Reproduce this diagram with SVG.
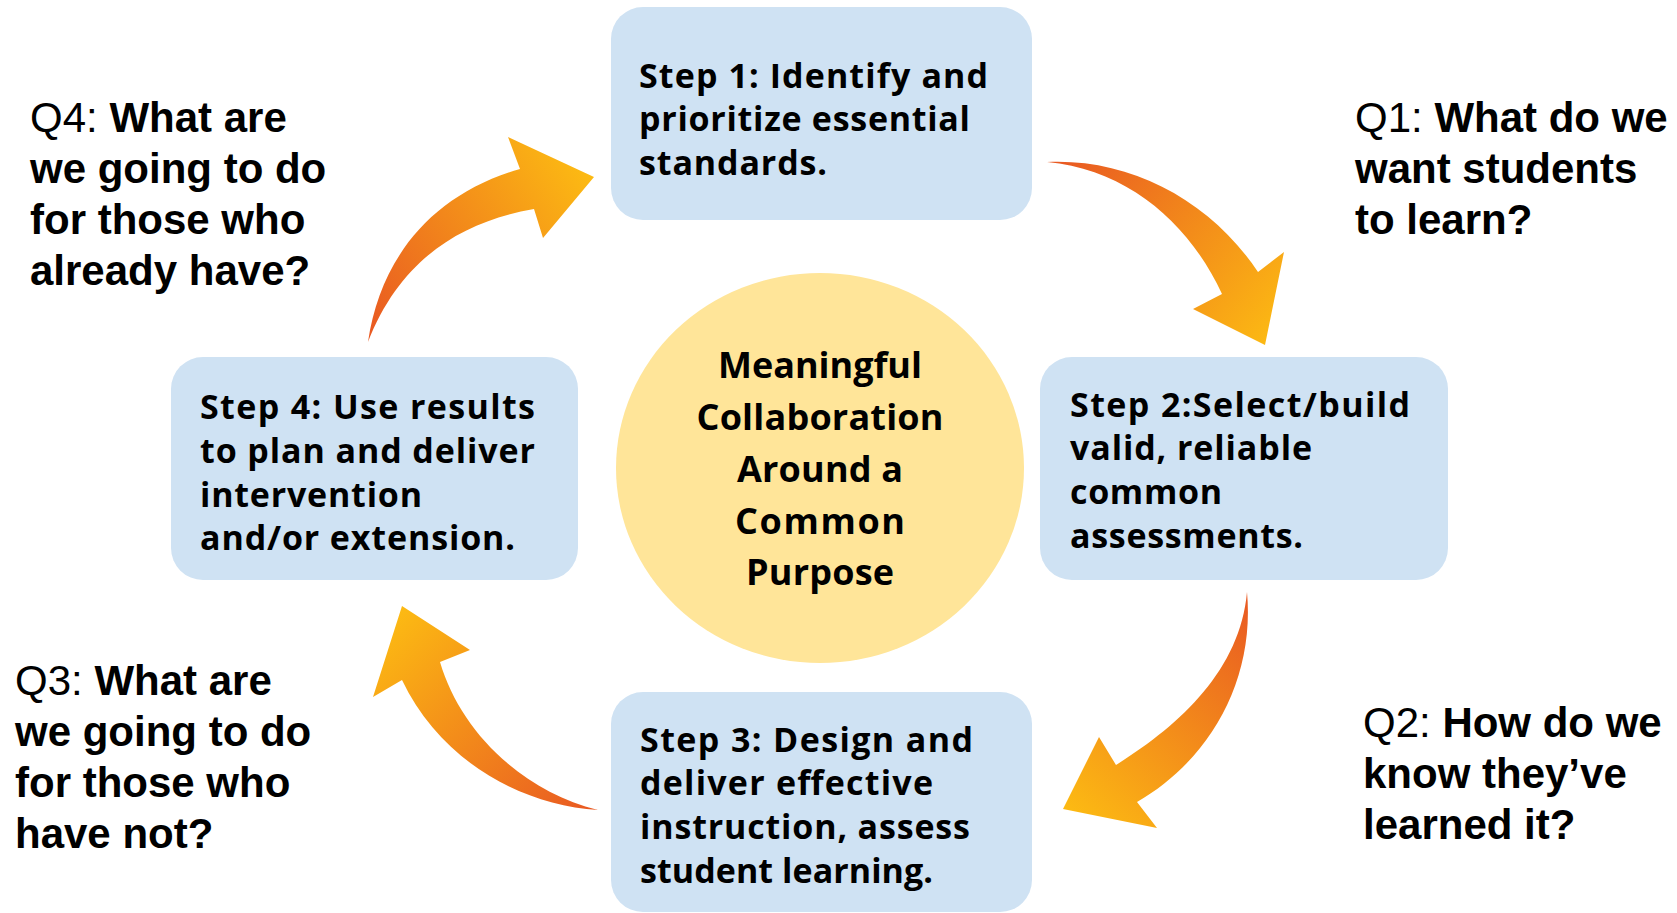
<svg xmlns="http://www.w3.org/2000/svg" width="1677" height="913" viewBox="0 0 1677 913">
<defs>
<style>
.box{fill:#cfe2f3;}
.step{font-family:"Open Sans","Liberation Sans",sans-serif;font-weight:700;font-size:34px;fill:#000;}
.center{font-family:"Open Sans","Liberation Sans",sans-serif;font-weight:700;font-size:36px;fill:#000;text-anchor:middle;}
.q{font-family:"Liberation Sans",Arial,sans-serif;font-size:42px;fill:#000;}
.q .b{font-weight:700;}
</style>
<linearGradient id="gA" gradientUnits="userSpaceOnUse" x1="370" y1="330" x2="590" y2="180"><stop offset="0" stop-color="#e95a22"/><stop offset="1" stop-color="#fcb913"/></linearGradient>
<linearGradient id="gB" gradientUnits="userSpaceOnUse" x1="1060" y1="165" x2="1270" y2="340"><stop offset="0" stop-color="#e95a22"/><stop offset="1" stop-color="#fcb913"/></linearGradient>
<linearGradient id="gC" gradientUnits="userSpaceOnUse" x1="1247" y1="600" x2="1065" y2="805"><stop offset="0" stop-color="#e95a22"/><stop offset="1" stop-color="#fcb913"/></linearGradient>
<linearGradient id="gD" gradientUnits="userSpaceOnUse" x1="590" y1="808" x2="400" y2="612"><stop offset="0" stop-color="#e95a22"/><stop offset="1" stop-color="#fcb913"/></linearGradient>
</defs>
<rect width="1677" height="913" fill="#ffffff"/>
<g id="connectors">
<path d="M368,342 C380,260 430,195 520,169 L508,137 L594,177 L543,238 L534,209 C460,222 400,260 368,342 Z" fill="url(#gA)"/>
<path d="M1047,162 C1130,158 1210,200 1258,272 L1284,252 L1265,345 L1193,309 L1222,294 C1190,225 1130,170 1047,162 Z" fill="url(#gB)"/>
<path d="M1247,592 C1255,680 1210,760 1137,802 L1157,828 L1063,809 L1099,737 L1116,765 C1180,725 1240,670 1247,592 Z" fill="url(#gC)"/>
<path d="M598,810 C520,805 440,760 402,680 L373,697 L402,606 L470,650 L440,662 C460,730 520,790 598,810 Z" fill="url(#gD)"/>
</g>
<g id="center">
<ellipse cx="820" cy="468" rx="204" ry="195" fill="#ffe599"/>
<text class="center" x="820" y="378" textLength="204">Meaningful</text>
<text class="center" x="820" y="430" textLength="247">Collaboration</text>
<text class="center" x="820" y="482" textLength="166">Around a</text>
<text class="center" x="820" y="534" textLength="170">Common</text>
<text class="center" x="820" y="585" textLength="148">Purpose</text>
</g>
<g id="step1">
<rect class="box" x="611" y="7" width="421" height="213" rx="32"/>
<text class="step" x="639" y="88" textLength="349">Step 1: Identify and</text>
<text class="step" x="639" y="131" textLength="331">prioritize essential</text>
<text class="step" x="639" y="175" textLength="188">standards.</text>
</g>
<g id="step2">
<rect class="box" x="1040" y="357" width="408" height="223" rx="32"/>
<text class="step" x="1070" y="417" textLength="340">Step 2:Select/build</text>
<text class="step" x="1070" y="460" textLength="242">valid, reliable</text>
<text class="step" x="1070" y="504" textLength="152">common</text>
<text class="step" x="1070" y="548" textLength="233">assessments.</text>
</g>
<g id="step3">
<rect class="box" x="611" y="692" width="421" height="220" rx="32"/>
<text class="step" x="640" y="752" textLength="333">Step 3: Design and</text>
<text class="step" x="640" y="795" textLength="293">deliver effective</text>
<text class="step" x="640" y="839" textLength="330">instruction, assess</text>
<text class="step" x="640" y="883" textLength="293">student learning.</text>
</g>
<g id="step4">
<rect class="box" x="171" y="357" width="407" height="223" rx="32"/>
<text class="step" x="200" y="419" textLength="335">Step 4: Use results</text>
<text class="step" x="200" y="463" textLength="335">to plan and deliver</text>
<text class="step" x="200" y="507" textLength="222">intervention</text>
<text class="step" x="200" y="550" textLength="315">and/or extension.</text>
</g>
<g id="q1">
<text class="q" x="1355" y="132">Q1: <tspan class="b">What do we</tspan></text>
<text class="q" x="1355" y="183" font-weight="700">want students</text>
<text class="q" x="1355" y="234" font-weight="700">to learn?</text>
</g>
<g id="q2">
<text class="q" x="1363" y="737">Q2: <tspan class="b">How do we</tspan></text>
<text class="q" x="1363" y="788" font-weight="700">know they’ve</text>
<text class="q" x="1363" y="839" font-weight="700">learned it?</text>
</g>
<g id="q3">
<text class="q" x="15" y="695">Q3: <tspan class="b">What are</tspan></text>
<text class="q" x="15" y="746" font-weight="700">we going to do</text>
<text class="q" x="15" y="797" font-weight="700">for those who</text>
<text class="q" x="15" y="848" font-weight="700">have not?</text>
</g>
<g id="q4">
<text class="q" x="30" y="132">Q4: <tspan class="b">What are</tspan></text>
<text class="q" x="30" y="183" font-weight="700">we going to do</text>
<text class="q" x="30" y="234" font-weight="700">for those who</text>
<text class="q" x="30" y="285" font-weight="700">already have?</text>
</g>
</svg>
